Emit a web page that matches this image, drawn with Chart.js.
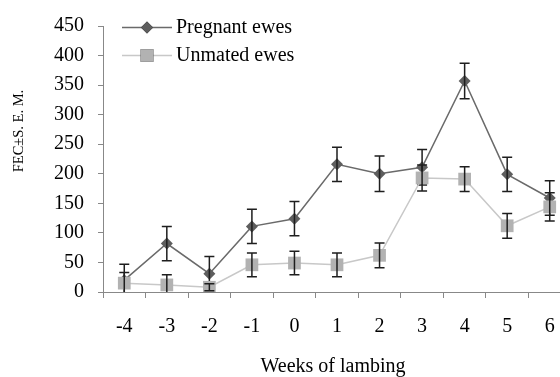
<!DOCTYPE html>
<html>
<head>
<meta charset="utf-8">
<script src="https://cdn.jsdelivr.net/npm/chart.js@4/dist/chart.umd.min.js"></script>
<style>
    html, body { margin: 0; padding: 0; background: #fff; overflow: hidden; }
    #wrap { width: 560px; height: 377px; overflow: hidden; }
</style>
</head>
<body>
<div id="wrap"><canvas id="fecChart" width="580" height="377"></canvas></div>
<script>
// Chart data
const weeks = ['-4', '-3', '-2', '-1', '0', '1', '2', '3', '4', '5', '6'];
const pregnant = [20, 82, 31, 111, 124, 216, 200, 211, 357, 199, 159];
const pregnantSem = [27, 29, 29, 29, 29, 29, 30, 30, 30, 29, 29];
const unmated = [15, 12, 8, 46, 49, 46, 62, 193, 191, 112, 144];
const unmatedSem = [18, 17, 6, 20, 20, 20, 21, 22, 21, 21, 24];
const yTicks = [0, 50, 100, 150, 200, 250, 300, 350, 400, 450];

const FONT = '"Liberation Serif", "Times New Roman", serif';

// Error bars drawn after each dataset so the next series covers them
const errorBars = {
    id: 'errorBars',
    afterDatasetDraw(chart, args) {
        const ds = chart.data.datasets[args.index];
        if (!ds.sem) return;
        const ctx = chart.ctx;
        const y = chart.scales.y;
        const area = chart.chartArea;
        ctx.save();
        ctx.beginPath();
        ctx.rect(area.left, area.top - 5, area.right - area.left, area.bottom - area.top + 5);
        ctx.clip();
        ctx.strokeStyle = '#1e1e1e';
        ctx.lineWidth = 1.5;
        args.meta.data.forEach((pt, i) => {
            const top = y.getPixelForValue(ds.data[i] + ds.sem[i]);
            const bot = y.getPixelForValue(ds.data[i] - ds.sem[i]);
            ctx.beginPath();
            ctx.moveTo(pt.x, top);
            ctx.lineTo(pt.x, bot);
            ctx.moveTo(pt.x - 5, top);
            ctx.lineTo(pt.x + 5, top);
            ctx.moveTo(pt.x - 5, bot);
            ctx.lineTo(pt.x + 5, bot);
            ctx.stroke();
        });
        ctx.restore();
    }
};

// Legend inside the plot and the two axis titles
const extras = {
    id: 'extras',
    afterDraw(chart) {
        const ctx = chart.ctx;
        ctx.save();
        chart.data.datasets.forEach((ds, i) => {
            const ly = 27.5 + i * 28;
            ctx.strokeStyle = ds.borderColor;
            ctx.lineWidth = ds.borderWidth;
            ctx.beginPath();
            ctx.moveTo(122, ly);
            ctx.lineTo(172, ly);
            ctx.stroke();
            Chart.helpers.drawPoint(ctx, {
                pointStyle: ds.pointStyle,
                radius: ds.pointRadius,
                borderWidth: 0
            }, 147, ly);
            ctx.fillStyle = ds.pointBackgroundColor;
            ctx.fill();
            ctx.fillStyle = '#000';
            ctx.font = '20px ' + FONT;
            ctx.textBaseline = 'middle';
            ctx.textAlign = 'left';
            ctx.fillText(ds.label, 176, ly);
        });

        ctx.font = '20px ' + FONT;
        ctx.textAlign = 'center';
        ctx.textBaseline = 'middle';
        ctx.fillText('Weeks of lambing', 333, 367);

        ctx.translate(19, 131);
        ctx.rotate(-Math.PI / 2);
        ctx.font = '14.5px ' + FONT;
        ctx.fillText('FEC\u00B1S. E. M.', 0, 0);
        ctx.restore();
    }
};

new Chart(document.getElementById('fecChart'), {
    type: 'line',
    data: {
        labels: weeks,
        datasets: [{
            label: 'Pregnant ewes',
            data: pregnant,
            sem: pregnantSem,
            order: 1,
            borderColor: '#6a6a6a',
            borderWidth: 1.5,
            pointStyle: 'rectRot',
            pointRadius: 6,
            pointBackgroundColor: '#5e5e5e',
            pointBorderWidth: 0
        }, {
            label: 'Unmated ewes',
            data: unmated,
            sem: unmatedSem,
            order: 0,
            borderColor: '#c8c8c8',
            borderWidth: 1.5,
            pointStyle: 'rect',
            pointRadius: 9,
            pointBackgroundColor: '#b2b2b2',
            pointBorderWidth: 0
        }]
    },
    options: {
        responsive: false,
        animation: false,
        layout: { padding: { top: 20, right: 7, left: 0, bottom: 0 } },
        plugins: {
            legend: { display: false },
            tooltip: { enabled: false }
        },
        scales: {
            x: {
                offset: true,
                grid: { drawOnChartArea: false, offset: true, tickLength: 6, color: '#888' },
                border: { color: '#888', width: 1 },
                ticks: { color: '#000', padding: 17, font: { family: FONT, size: 20 } },
                afterFit: (scale) => { scale.height = 85; }
            },
            y: {
                min: 0,
                max: 450,
                afterBuildTicks: (scale) => { scale.ticks = yTicks.map(v => ({ value: v })); },
                grid: { drawOnChartArea: false, tickLength: 5, color: '#888' },
                border: { color: '#888', width: 1 },
                ticks: { color: '#000', padding: 14, font: { family: FONT, size: 20 } },
                afterFit: (scale) => { scale.width = 103; }
            }
        }
    },
    plugins: [errorBars, extras]
});
</script>
</body>
</html>
